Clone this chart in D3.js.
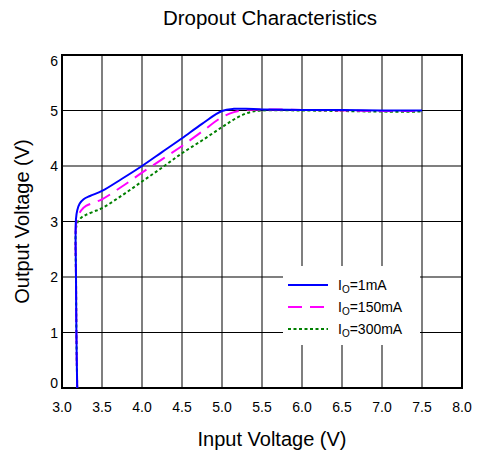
<!DOCTYPE html>
<html>
<head>
<meta charset="utf-8">
<script src="https://cdn.jsdelivr.net/npm/d3@7"></script>
<style>
  body { margin: 0; background: #fff; }
  text { font-family: "Liberation Sans", Arial, sans-serif; }
</style>
</head>
<body>
<svg id="chart" width="479" height="450"></svg>
<script>
// chart values
var xTicks = [3.0, 3.5, 4.0, 4.5, 5.0, 5.5, 6.0, 6.5, 7.0, 7.5, 8.0];
var yTicks = [0, 1, 2, 3, 4, 5, 6];

var vin1mA   = [3.19, 3.18, 3.175, 3.17, 3.175, 3.19, 3.22, 3.27, 3.35, 3.5, 3.75, 4.0, 4.25, 4.5, 4.75, 5.0, 5.15, 5.3, 5.5, 6.0, 6.5, 7.0, 7.5];
var vout1mA  = [0, 1, 2, 2.8, 3.05, 3.2, 3.32, 3.40, 3.46, 3.55, 3.77, 4.0, 4.25, 4.5, 4.76, 4.99, 5.03, 5.03, 5.02, 5.01, 5.01, 5.0, 5.0];
var vin150mA  = [3.19, 3.18, 3.175, 3.17, 3.18, 3.2, 3.24, 3.3, 3.4, 3.5, 3.75, 4.0, 4.25, 4.5, 4.75, 5.0, 5.15, 5.3, 5.5, 6.0, 6.5, 7.0, 7.5];
var vout150mA = [0, 1, 2, 2.8, 3.0, 3.1, 3.2, 3.28, 3.34, 3.40, 3.63, 3.88, 4.12, 4.36, 4.62, 4.88, 4.97, 5.01, 5.02, 5.01, 5.0, 4.99, 4.99];
var vin300mA  = [3.19, 3.18, 3.175, 3.17, 3.18, 3.2, 3.25, 3.3, 3.4, 3.5, 3.75, 4.0, 4.25, 4.5, 4.75, 5.0, 5.2, 5.35, 5.5, 6.0, 6.5, 7.0, 7.5];
var vout300mA = [0, 1, 2, 2.75, 2.92, 3.0, 3.08, 3.12, 3.18, 3.24, 3.47, 3.72, 3.97, 4.23, 4.46, 4.70, 4.88, 4.97, 5.0, 5.0, 4.99, 4.98, 4.98];
var seriesNames = ["1mA", "150mA", "300mA"];

var W = 479, H = 450;
var m = {left: 62, right: 17, top: 55, bottom: 62};
var svg = d3.select("#chart");

var x = d3.scaleLinear().domain([3, 8]).range([m.left, W - m.right]);
var y = d3.scaleLinear().domain([0, 6]).range([H - m.bottom, m.top]);

// grid
svg.append("g").selectAll("line").data(xTicks.slice(1, -1)).enter().append("line")
  .attr("x1", d => x(d)).attr("x2", d => x(d))
  .attr("y1", y(0)).attr("y2", y(6))
  .attr("stroke", "#555").attr("stroke-width", 1.5);
svg.append("g").selectAll("line").data(yTicks.slice(1, -1)).enter().append("line")
  .attr("x1", x(3)).attr("x2", x(8))
  .attr("y1", d => y(d)).attr("y2", d => y(d))
  .attr("stroke", "#000").attr("stroke-width", 1.2);

// frame
svg.append("rect").attr("x", x(3)).attr("y", y(6))
  .attr("width", x(8) - x(3)).attr("height", y(0) - y(6))
  .attr("fill", "none").attr("stroke", "#000").attr("stroke-width", 2);

// tick labels (end labels pulled inside like the original)
svg.append("g").selectAll("text").data(xTicks).enter().append("text")
  .attr("x", d => x(d)).attr("y", y(0) + 24)
  .attr("text-anchor", "middle").attr("font-size", 14)
  .text(d => d.toFixed(1));
svg.append("g").selectAll("text").data(yTicks).enter().append("text")
  .attr("x", x(3) - 4)
  .attr("y", d => d == 6 ? y(d) + 11 : d == 0 ? y(d) : y(d) + 5)
  .attr("text-anchor", "end").attr("font-size", 14)
  .text(d => d);

// titles
svg.append("text").attr("x", 270).attr("y", 25).attr("text-anchor", "middle")
  .attr("font-size", 20.5).text("Dropout Characteristics");
svg.append("text").attr("x", 272).attr("y", 446).attr("text-anchor", "middle")
  .attr("font-size", 20).text("Input Voltage (V)");
svg.append("text").attr("transform", "translate(29," + ((y(0) + y(6)) / 2) + ") rotate(-90)")
  .attr("text-anchor", "middle").attr("font-size", 20).text("Output Voltage (V)");

// curves
var series = [
  {vin: vin1mA, vout: vout1mA, color: "#0000ff", dash: null},
  {vin: vin150mA, vout: vout150mA, color: "#ff00ff", dash: "14,8"},
  {vin: vin300mA, vout: vout300mA, color: "#008000", dash: "3,2.5"}
];
var line = d3.line().x(d => x(d[0])).y(d => y(d[1])).curve(d3.curveCatmullRom.alpha(0.5));
svg.append("clipPath").attr("id", "clip").append("rect")
  .attr("x", x(3)).attr("y", y(6)).attr("width", x(8) - x(3)).attr("height", y(0) - y(6));
series.slice().reverse().forEach(function (s) {
  var pts = s.vin.map((v, i) => [v, s.vout[i]]);
  svg.append("path").attr("d", line(pts))
    .attr("fill", "none").attr("stroke", s.color).attr("stroke-width", 2)
    .attr("stroke-dasharray", s.dash).attr("clip-path", "url(#clip)");
});

// legend
var lg = svg.append("g");
lg.append("rect").attr("x", 283).attr("y", 266).attr("width", 137).attr("height", 79).attr("fill", "#fff");
series.forEach(function (s, i) {
  var ly = 285 + i * 22;
  lg.append("line").attr("x1", 288).attr("x2", 328).attr("y1", ly).attr("y2", ly)
    .attr("stroke", s.color).attr("stroke-width", 2).attr("stroke-dasharray", s.dash);
  var t = lg.append("text").attr("x", 338).attr("y", ly + 5).attr("font-size", 14);
  t.append("tspan").text("I");
  t.append("tspan").attr("font-size", 10).attr("dy", 3).text("O");
  t.append("tspan").attr("dy", -3).text("=" + seriesNames[i]);
});
</script>
</body>
</html>
